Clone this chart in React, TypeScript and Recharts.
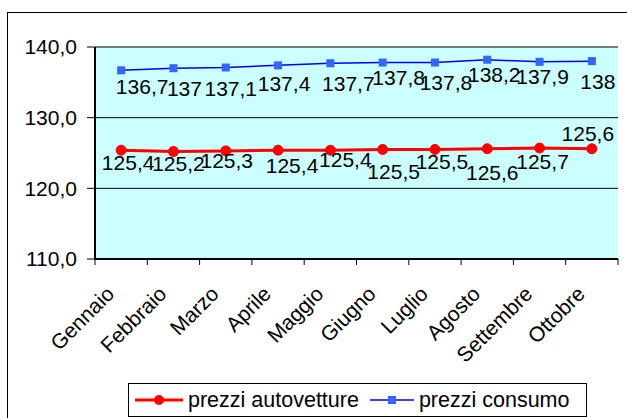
import React from 'react';
import {
  LineChart,
  Line,
  XAxis,
  YAxis,
  CartesianGrid,
  LabelList,
} from 'recharts';

// mesi (asse X)
const MONTHS = ['Gennaio', 'Febbraio', 'Marzo', 'Aprile', 'Maggio', 'Giugno', 'Luglio', 'Agosto', 'Settembre', 'Ottobre'];
// indici dei prezzi
const AUTOVETTURE = [125.4, 125.2, 125.3, 125.4, 125.4, 125.5, 125.5, 125.6, 125.7, 125.6];
const CONSUMO = [136.7, 137, 137.1, 137.4, 137.7, 137.8, 137.8, 138.2, 137.9, 138];
const Y_TICKS = [110, 120, 130, 140];

const FONT = "'Liberation Sans', Arial, sans-serif";
const FS = 21;
const W = 627;
const H = 418;
const PLOT_LEFT = 95;
const PLOT_RIGHT = 618;
const HALF_BAND = (PLOT_RIGHT - PLOT_LEFT) / MONTHS.length / 2;

// spostamenti delle etichette come in Excel (solo stile)
const RED_LABEL_OFFSET = [[7, 12], [5, 12], [1, 10], [14, 15], [15, 9], [11, 22], [7, 12], [5, 24], [3, 13], [-4, -15]];
const BLUE_LABEL_OFFSET = [[21, 16], [11, 20], [5, 21], [6, 18], [18, 20], [16, 15], [11, 20], [7, 15], [3, 15], [6, 20]];

const fmt = (v: number) => String(v).replace('.', ',');

const makeLabel = (offsets: number[][]) => (props: any) => {
  const { x, y, value, index } = props;
  const [dx, dy] = offsets[index] || [0, 0];
  return (
    <text
      x={x + dx}
      y={y + dy}
      textAnchor="middle"
      dominantBaseline="central"
      fontFamily={FONT}
      fontSize={FS}
      fill="#000"
    >
      {fmt(value)}
    </text>
  );
};

const MonthTick = (props: any) => {
  const { x, y, payload, index } = props;
  const ax = x - 11;
  const ay = y + 31;
  return (
    <g>
      <line x1={x - HALF_BAND} y1={y} x2={x - HALF_BAND} y2={y + 6} stroke="#000" />
      {index === MONTHS.length - 1 && (
        <line x1={x + HALF_BAND} y1={y} x2={x + HALF_BAND} y2={y + 6} stroke="#000" />
      )}
      <text
        x={ax}
        y={ay}
        textAnchor="end"
        dominantBaseline="central"
        transform={`rotate(-45 ${ax} ${ay})`}
        fontFamily={FONT}
        fontSize={FS}
        fill="#000"
      >
        {payload.value}
      </text>
    </g>
  );
};

const SquareDot = (props: any) => {
  const { cx, cy } = props;
  return <rect x={cx - 4} y={cy - 4} width={8} height={8} fill="#3366FF" />;
};

export default function App() {
  const data = MONTHS.map((m, i) => ({ mese: m, auto: AUTOVETTURE[i], consumo: CONSUMO[i] }));

  return (
    <div style={{ position: 'absolute', left: 0, top: 0, width: W, height: H, overflow: 'hidden', background: '#fff' }}>
      {/* cornice esterna */}
      <div style={{ position: 'absolute', left: 7, top: 12, width: 640, height: 440, border: '1px solid #000' }} />
      <div style={{ position: 'absolute', left: 0, top: 0 }}>
        <LineChart width={W} height={H} data={data} margin={{ top: 47, right: W - PLOT_RIGHT, bottom: 59, left: 0 }}>
          <CartesianGrid vertical={false} stroke="#000" fill="#CCFFFF" fillOpacity={1} />
          <XAxis
            dataKey="mese"
            scale="band"
            height={100}
            interval={0}
            tickLine={false}
            tickSize={0}
            tickMargin={0}
            axisLine={{ stroke: '#000', strokeWidth: 2 }}
            tick={<MonthTick />}
          />
          <YAxis
            width={PLOT_LEFT}
            domain={[110, 140]}
            ticks={Y_TICKS}
            tickFormatter={(v: number) => v.toFixed(1).replace('.', ',')}
            tickSize={8}
            tickMargin={10}
            axisLine={{ stroke: '#000', strokeWidth: 2 }}
            tickLine={{ stroke: '#000' }}
            tick={{ fontFamily: FONT, fontSize: FS, fill: '#000' }}
          />
          <YAxis
            yAxisId="r"
            orientation="right"
            width={0}
            domain={[110, 140]}
            tick={false}
            tickLine={false}
            axisLine={{ stroke: '#000' }}
          />
          <Line
            dataKey="auto"
            stroke="#FF0000"
            strokeWidth={3}
            dot={{ r: 5, fill: '#FF0000', stroke: '#FF0000', strokeWidth: 1 }}
            isAnimationActive={false}
          >
            <LabelList dataKey="auto" content={makeLabel(RED_LABEL_OFFSET)} />
          </Line>
          <Line
            dataKey="consumo"
            stroke="#0000FF"
            strokeWidth={1.5}
            dot={<SquareDot />}
            isAnimationActive={false}
          >
            <LabelList dataKey="consumo" content={makeLabel(BLUE_LABEL_OFFSET)} />
          </Line>
        </LineChart>
      </div>
      {/* legenda */}
      <div
        style={{
          position: 'absolute',
          left: 128,
          top: 383,
          width: 457,
          height: 32,
          border: '1px solid #000',
          background: '#fff',
          fontFamily: FONT,
          fontSize: 21.5,
          display: 'flex',
          alignItems: 'center',
          whiteSpace: 'nowrap',
        }}
      >
        <svg width={50} height={20} style={{ marginLeft: 6 }}>
          <line x1={0} y1={10} x2={48} y2={10} stroke="#FF0000" strokeWidth={3} />
          <circle cx={24} cy={10} r={5} fill="#FF0000" />
        </svg>
        <span style={{ marginLeft: 3 }}>prezzi autovetture</span>
        <svg width={45} height={20} style={{ marginLeft: 11 }}>
          <line x1={0} y1={10} x2={44} y2={10} stroke="#0000FF" strokeWidth={1.5} />
          <rect x={18} y={6} width={8} height={8} fill="#3366FF" />
        </svg>
        <span style={{ marginLeft: 4 }}>prezzi consumo</span>
      </div>
    </div>
  );
}
